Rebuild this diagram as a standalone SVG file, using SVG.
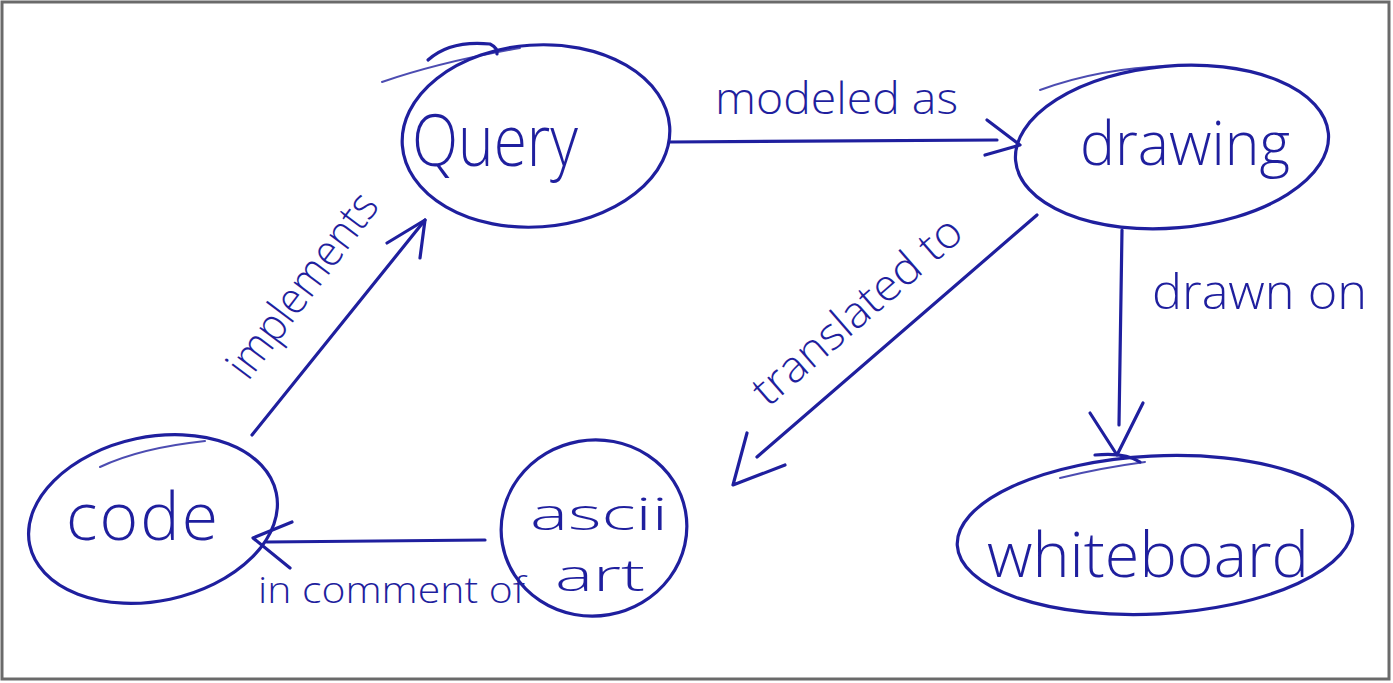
<svg xmlns="http://www.w3.org/2000/svg" width="1393" height="683" viewBox="0 0 1393 683">
  <style>
    .ink { fill: none; stroke: #1f1f9e; stroke-width: 3.2; stroke-linecap: round; stroke-linejoin: round; }
    .thin { fill: none; stroke: #1f1f9e; stroke-width: 2; stroke-linecap: round; opacity: 0.8; }
    .lbl { fill: #1f1f9e; font-family: "Open Sans", "Liberation Sans", sans-serif; font-weight: 300; }
  </style>
  <rect x="0" y="0" width="1393" height="683" fill="#ffffff"/>
  <rect x="2" y="2" width="1387" height="677" fill="none" stroke="#6a6a6a" stroke-width="3"/>

  <g id="node-query">
    <ellipse class="ink" cx="536" cy="136" rx="134" ry="91" transform="rotate(-4 536 136)"/>
    <path class="thin" d="M382 82 Q 440 62 520 48"/>
    <path class="ink" d="M428 60 Q 450 40 490 44 Q 498 48 497 54"/>
    <text class="lbl" x="412" y="166" font-size="72" textLength="166" lengthAdjust="spacingAndGlyphs">Query</text>
  </g>

  <g id="node-drawing">
    <ellipse class="ink" cx="1172" cy="147" rx="157" ry="81" transform="rotate(-5 1172 147)"/>
    <path class="thin" d="M1040 90 Q 1100 68 1170 66"/>
    <text class="lbl" x="1080" y="165" font-size="60" textLength="210" lengthAdjust="spacingAndGlyphs">drawing</text>
  </g>

  <g id="node-code">
    <ellipse class="ink" cx="153" cy="519" rx="126" ry="82" transform="rotate(-12 153 519)"/>
    <path class="thin" d="M100 467 Q 140 448 205 441"/>
    <text class="lbl" x="66" y="540" font-size="66" textLength="152" lengthAdjust="spacing">code</text>
  </g>

  <g id="node-ascii">
    <ellipse class="ink" cx="594" cy="528" rx="93" ry="88" transform="rotate(-10 594 528)"/>
    <text class="lbl" x="530" y="530" font-size="44" textLength="138" lengthAdjust="spacingAndGlyphs">ascii</text>
    <text class="lbl" x="555" y="591" font-size="44" textLength="90" lengthAdjust="spacingAndGlyphs">art</text>
  </g>

  <g id="node-whiteboard">
    <ellipse class="ink" cx="1155" cy="535" rx="198" ry="79" transform="rotate(-3 1155 535)"/>
    <path class="thin" d="M1060 478 Q 1100 468 1145 462"/>
    <path class="ink" d="M1095 455 Q 1125 452 1140 462"/>
    <text class="lbl" x="987" y="577" font-size="62" textLength="322" lengthAdjust="spacingAndGlyphs">whiteboard</text>
  </g>

  <g id="connectors">
    <!-- Query -> drawing -->
    <path class="ink" d="M670 142 L 997 140"/>
    <path class="ink" d="M987 120 L 1020 145 L 985 155"/>
    <text class="lbl" x="715" y="114" font-size="44" textLength="243" lengthAdjust="spacingAndGlyphs">modeled as</text>

    <!-- drawing -> whiteboard -->
    <path class="ink" d="M1122 230 L 1119 425"/>
    <path class="ink" d="M1090 413 L 1117 455 L 1143 403"/>
    <text class="lbl" x="1152" y="309" font-size="48" textLength="215" lengthAdjust="spacingAndGlyphs">drawn on</text>

    <!-- drawing -> ascii art -->
    <path class="ink" d="M1037 215 L 757 457"/>
    <path class="ink" d="M747 433 L 733 485 L 785 465"/>
    <text class="lbl" x="768" y="408" font-size="44" textLength="262" lengthAdjust="spacingAndGlyphs" transform="rotate(-41 768 408)">translated to</text>

    <!-- ascii art -> code -->
    <path class="ink" d="M485 540 L 267 542"/>
    <path class="ink" d="M292 522 L 253 538 L 290 568"/>
    <text class="lbl" x="258" y="603" font-size="36" textLength="267" lengthAdjust="spacingAndGlyphs">in comment of</text>

    <!-- code -> Query -->
    <path class="ink" d="M252 435 L 425 220"/>
    <path class="ink" d="M387 243 L 425 220 L 420 258"/>
    <text class="lbl" x="248" y="382" font-size="44" textLength="220" lengthAdjust="spacingAndGlyphs" transform="rotate(-53 248 382)">implements</text>
  </g>
</svg>
